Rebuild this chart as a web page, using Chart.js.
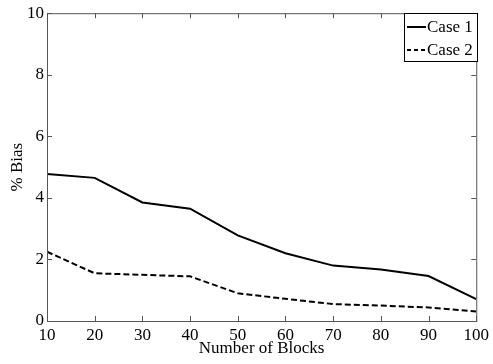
<!DOCTYPE html>
<html>
<head>
<meta charset="UTF-8">
<script src="https://cdn.jsdelivr.net/npm/chart.js"></script>
<style>
    body { margin: 0; background: #fff; }
    #wrap { width: 493px; height: 364px; }
</style>
</head>
<body>
<div id="wrap"><canvas id="graph"></canvas></div>
<script>
    const blocks = [10, 20, 30, 40, 50, 60, 70, 80, 90, 100];
    const case1 = [4.78, 4.65, 3.85, 3.65, 2.78, 2.2, 1.8, 1.67, 1.46, 0.71];
    const case2 = [2.25, 1.55, 1.5, 1.45, 0.9, 0.72, 0.55, 0.5, 0.44, 0.31];
    const seriesNames = ["Case 1", "Case 2"];

    const FONT = "'Liberation Serif', 'Times New Roman', serif";
    const AXIS_COLOR = "#555";

    // boite + ticks vers l'interieur (style matlab) + legende dans le coin
    const matlabBox = {
        id: "matlabBox",
        afterDraw(chart) {
            const ctx = chart.ctx;
            const a = chart.chartArea;
            const xs = chart.scales.x, ys = chart.scales.y;
            ctx.save();
            ctx.strokeStyle = AXIS_COLOR;
            ctx.lineWidth = 1;
            ctx.strokeRect(a.left + 0.5, a.top + 0.5, a.right - a.left, a.bottom - a.top);
            ctx.beginPath();
            xs.ticks.forEach(t => {
                const px = Math.round(xs.getPixelForValue(t.value)) + 0.5;
                ctx.moveTo(px, a.bottom); ctx.lineTo(px, a.bottom - 5);
                ctx.moveTo(px, a.top); ctx.lineTo(px, a.top + 5);
            });
            ys.ticks.forEach(t => {
                const py = Math.round(ys.getPixelForValue(t.value)) + 0.5;
                ctx.moveTo(a.left, py); ctx.lineTo(a.left + 5, py);
                ctx.moveTo(a.right, py); ctx.lineTo(a.right - 5, py);
            });
            ctx.stroke();

            // legende
            const lx = 404, ly = 13, lw = 73, lh = 48;
            ctx.fillStyle = "#fff";
            ctx.fillRect(lx, ly, lw, lh);
            ctx.strokeStyle = "#000";
            ctx.strokeRect(lx + 0.5, ly + 0.5, lw, lh);
            ctx.font = "17px " + FONT;
            ctx.textBaseline = "middle";
            chart.data.datasets.forEach((ds, i) => {
                const y = ly + 14 + i * 23;
                ctx.beginPath();
                ctx.setLineDash(ds.borderDash ? [4, 3] : []);
                ctx.lineWidth = 2;
                ctx.strokeStyle = "#000";
                ctx.moveTo(lx + 3, y); ctx.lineTo(lx + 22, y);
                ctx.stroke();
                ctx.setLineDash([]);
                ctx.fillStyle = "#000";
                ctx.fillText(ds.label, lx + 23, y + 1);
            });
            ctx.restore();
        }
    };

    new Chart(document.getElementById("graph"), {
        type: "line",
        data: {
            labels: blocks,
            datasets: [
                { label: seriesNames[0], data: case1, borderColor: "#000", borderWidth: 2, pointRadius: 0, tension: 0, fill: false },
                { label: seriesNames[1], data: case2, borderColor: "#000", borderWidth: 2, borderDash: [6, 3], pointRadius: 0, tension: 0, fill: false }
            ]
        },
        options: {
            responsive: true,
            maintainAspectRatio: false,
            animation: false,
            layout: { padding: { top: 12, right: 13, left: 0, bottom: 0 } },
            plugins: { legend: { display: false }, tooltip: { enabled: false } },
            scales: {
                x: {
                    type: "linear",
                    min: 10, max: 100,
                    ticks: { stepSize: 10, color: "#000", font: { family: FONT, size: 17 }, padding: 4, maxRotation: 0 },
                    grid: { display: false, drawTicks: false },
                    border: { display: false },
                    title: { display: true, text: "Number of Blocks", color: "#000", font: { family: FONT, size: 17 }, padding: { top: 0, bottom: 5 } },
                    afterFit(scale) { scale.height = 43; }
                },
                y: {
                    min: 0, max: 10,
                    ticks: { stepSize: 2, color: "#000", font: { family: FONT, size: 17 }, padding: 3 },
                    grid: { display: false, drawTicks: false },
                    border: { display: false },
                    title: { display: true, text: "% Bias", color: "#000", font: { family: FONT, size: 17 }, padding: { top: 7, bottom: 4 } },
                    afterFit(scale) { scale.width = 47; }
                }
            }
        },
        plugins: [matlabBox]
    });
</script>
</body>
</html>
